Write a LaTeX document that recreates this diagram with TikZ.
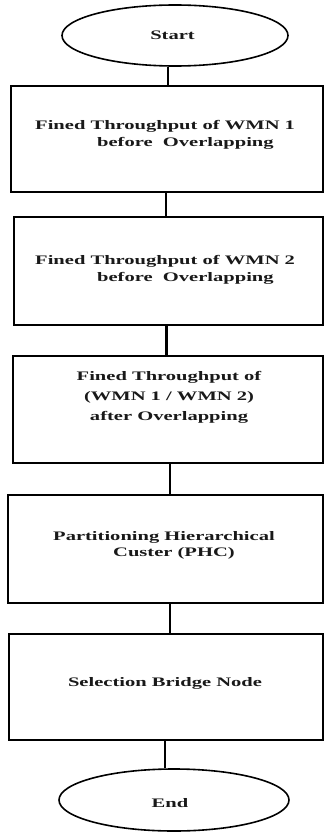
\documentclass[tikz,border=0pt]{standalone}
\usepackage{fontspec}
\setmainfont{Liberation Serif}
\usetikzlibrary{shapes.geometric}
\newcommand\widetxt[1]{\scalebox{1.58}[1]{#1}}
\begin{document}
\begin{tikzpicture}[x=1pt,y=-1pt,
  boxst/.style={draw, line width=2pt, rectangle, inner sep=0pt},
  ovalst/.style={draw, line width=1.6pt, ellipse, inner sep=0pt},
  lbl/.style={font=\bfseries\fontsize{13}{16.5}\selectfont, inner sep=0pt, text=black!90},
  link/.style={line width=2.4pt}]
\useasboundingbox[fill=white] (0,0) rectangle (326,832);
% shapes
\node[ovalst, minimum width=226pt, minimum height=61pt] (start) at (175,35.5) {};
\node[boxst, minimum width=312pt, minimum height=106pt] (b1) at (167,139) {};
\node[boxst, minimum width=309pt, minimum height=108pt] (b2) at (168.5,271) {};
\node[boxst, minimum width=310pt, minimum height=107pt] (b3) at (168,409.5) {};
\node[boxst, minimum width=315pt, minimum height=108pt] (b4) at (165.5,549) {};
\node[boxst, minimum width=314pt, minimum height=106pt] (b5) at (166,687) {};
\node[ovalst, minimum width=230pt, minimum height=62pt] (end) at (174,800) {};
% texts
\node[lbl] (tstart) at (172.5,35.7) {\widetxt{Start}};
\node[lbl, anchor=west, align=left] (t1) at (35,135) {\widetxt{Fined Throughput of WMN 1}\\\hspace*{62pt}\widetxt{before\ \ Overlapping}};
\node[lbl, anchor=west, align=left] (t2) at (35,270) {\widetxt{Fined Throughput of WMN 2}\\\hspace*{62pt}\widetxt{before\ \ Overlapping}};
\node[lbl, align=center, font=\bfseries\fontsize{13}{20}\selectfont] (t3) at (169,397) {\widetxt{Fined Throughput of}\\\widetxt{(WMN 1 / WMN 2)}\\\widetxt{after Overlapping}};
\node[lbl, anchor=west, align=left] (t4) at (53,545.5) {\widetxt{Partitioning Hierarchical}\\\hspace*{60pt}\widetxt{Custer (PHC)}};
\node[lbl] (t5) at (165,683) {\widetxt{Selection Bridge Node}};
\node[lbl] (tend) at (170,803) {\widetxt{End}};
% connector x positions
\coordinate (x0) at (168,0);
\coordinate (x1) at (166,0);
\coordinate (x2) at (166.5,0);
\coordinate (x3) at (170,0);
\coordinate (x4) at (170,0);
\coordinate (x5) at (165,0);
% connectors
\draw[link] (start.south -| x0) -- (b1.north -| x0);
\draw[link] (b1.south -| x1) -- (b2.north -| x1);
\draw[link] (b2.south -| x2) -- (b3.north -| x2);
\draw[link] (b3.south -| x3) -- (b4.north -| x3);
\draw[link] (b4.south -| x4) -- (b5.north -| x4);
\draw[link] (b5.south -| x5) -- (end.north -| x5);
\end{tikzpicture}
\end{document}
